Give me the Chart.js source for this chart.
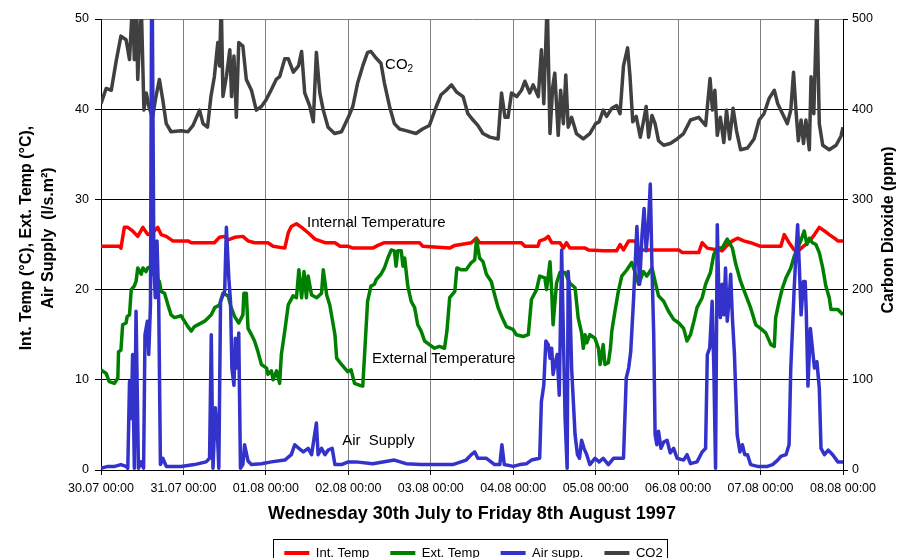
<!DOCTYPE html>
<html>
<head>
<meta charset="utf-8">
<script src="https://cdn.jsdelivr.net/npm/chart.js@4.4.0/dist/chart.umd.min.js"></script>
<style>
  html, body { margin: 0; padding: 0; background: #fff; }
  #wrap { width: 899px; height: 558px; }
</style>
</head>
<body>
<div id="wrap"><canvas id="chart" width="899" height="558"></canvas></div>
<script>
// hours since 30.07 00:00
const xTickLabels = ['30.07 00:00', '31.07 00:00', '01.08 00:00', '02.08 00:00', '03.08 00:00',
  '04.08 00:00', '05.08 00:00', '06.08 00:00', '07.08 00:00', '08.08 00:00'];
const seriesLabels = ['Int. Temp', 'Ext. Temp', 'Air supp.', 'CO2'];

const intTempHours = [0, 5.3, 5.8, 6.8, 7.8, 9.2, 10.7, 12.2, 13.6, 15, 16.5, 17.5, 19, 20.9, 25.3, 26.3, 33, 34.5, 36, 37,
  38.9, 41.3, 42.8, 44.7, 48.6, 50.1, 53.5, 54.5, 55.4, 56.9, 58.4, 60.3, 62.3, 65.2, 68.1, 69.6, 72, 73.3, 79.1, 80.6,
  82.5, 92.7, 93.7, 101.5, 103, 107.8, 109.3, 110.2, 122.4, 123.4, 127.2, 127.7, 129.2, 130.2, 131.2, 133.6, 134.6, 135.5, 136.5, 140.9,
  141.9, 146.2, 150.1, 151.1, 152.1, 153.6, 155.5, 156.5, 168.2, 169.2, 174, 175, 176.5, 180.8, 182.3, 183.8, 185.3, 187.1, 189.1, 192,
  197.9, 198.9, 200.3, 201.8, 203.3, 204.8, 206.7, 207.7, 209.1, 210.6, 212, 213.5, 214.5, 216];
const intTemp = [24.8, 24.8, 24.6, 26.9, 26.9, 26.5, 25.9, 26.9, 26.1, 26.3, 26.9, 26.1, 25.9, 25.4, 25.4, 25.2, 25.2, 25.8, 25.9, 25.5,
  25.8, 25.9, 25.4, 25.2, 25.2, 24.8, 24.6, 26.3, 27, 27.3, 26.9, 26.3, 25.6, 25.2, 25.2, 24.8, 24.8, 24.6, 24.6, 24.9,
  25.2, 25.2, 24.8, 24.6, 24.9, 25.2, 25.7, 25.2, 25.2, 24.8, 24.8, 25.4, 25.6, 25.9, 25.2, 25.2, 24.6, 25.2, 24.6, 24.6,
  24.4, 24.3, 24.3, 25, 24.4, 25.4, 25.4, 24.4, 24.4, 24.1, 24.1, 25.2, 24.6, 24.3, 24.9, 25.4, 25.7, 25.4, 25.2, 24.8,
  24.8, 26.1, 25.2, 24.4, 24.4, 24.9, 25.6, 26.1, 26.9, 26.5, 26.1, 25.7, 25.4, 25.4];

const extTempHours = [0, 1.5, 2.4, 3.9, 4.9, 5.1, 5.8, 6.3, 7.3, 7.6, 8.3, 8.8, 9.7, 10.2, 10.7, 11.7, 12.2, 13.1, 13.6, 14.6,
  15.6, 17, 17.5, 18.5, 19.5, 20.4, 21.4, 23.3, 24.3, 25.3, 26.3, 27.2, 30.2, 32.1, 33.1, 34.5, 35.5, 37, 37.9, 38.9,
  40.1, 41.3, 41.6, 42.3, 42.8, 43.8, 44.7, 45.7, 46.7, 48.2, 48.6, 49.6, 50.1, 51.1, 52, 52.5, 53.5, 54.5, 55.9, 56.9,
  57.6, 58.4, 59.1, 59.8, 60.3, 61.3, 62.8, 64.2, 64.7, 65.7, 66.6, 67.6, 68.1, 68.6, 70, 71.8, 72.8, 73.8, 75.2, 76.2,
  76.7, 77.6, 78.6, 79.6, 80.1, 81.5, 82.5, 83.5, 84.5, 85.4, 85.9, 86.4, 87.4, 87.9, 88.4, 89.3, 90.3, 91.3, 92.2, 93.2,
  94.2, 95.6, 97.1, 98.5, 100, 100.7, 101.5, 103, 103.6, 104.9, 106.3, 107.8, 108.8, 109.3, 110.2, 111.2, 112.2, 113.6, 114.6, 115.6,
  117, 118, 119.9, 120.9, 122.9, 124.4, 125.3, 126.8, 127.7, 129.2, 129.7, 130.7, 131.2, 131.6, 132.6, 133.6, 135.1, 136.5, 138, 138.9,
  139.9, 140.4, 140.9, 141.4, 142.3, 143.8, 144.8, 145.3, 146.2, 146.7, 147.7, 148.3, 148.7, 149.7, 150.6, 151.6, 153.1, 154.5, 155.5, 156.5,
  157.9, 158.9, 160.4, 161.3, 162.3, 163.8, 165.2, 166.7, 168.2, 169.6, 170.6, 171.6, 172.6, 173.5, 175, 176, 177.4, 178.4, 179.4, 180.8,
  182.3, 183.8, 184.8, 186.2, 187.7, 189.1, 190.6, 192, 193.5, 195, 196, 196.4, 197.4, 198.4, 199.4, 200.8, 201.8, 202.8, 203.7, 204.7,
  205.5, 206.2, 207.1, 208.1, 209.1, 210.1, 211, 212, 212.5, 214.5, 216];
const extTemp = [11.1, 10.7, 9.8, 9.6, 10.2, 13.1, 13.3, 16.1, 16.3, 17, 17.2, 20, 20.4, 20.9, 22.4, 21.7, 22.4, 22, 22.4, 22.6,
  21.5, 20.9, 19.8, 19.6, 18.3, 17.2, 16.9, 17.1, 16.5, 15.9, 15.4, 15.9, 16.5, 17.2, 18, 18.3, 19.6, 19.3, 18, 17,
  16.3, 17.2, 19.6, 19.6, 15.7, 15, 14.3, 13.1, 11.7, 11.3, 10.6, 11, 10, 11, 9.6, 12.8, 15.4, 18.3, 19.3, 19.1,
  22.2, 19.1, 22, 19.1, 21.5, 19.4, 19.1, 19.6, 22.2, 19.4, 18.3, 16.1, 15, 12.4, 11.7, 10.9, 11.1, 9.6, 9.4, 9.3,
  12.6, 18.7, 20.4, 20.6, 21.1, 21.7, 22.4, 23.5, 24.4, 24.3, 22.6, 24.3, 24.3, 22.6, 23.5, 20.4, 18.7, 18, 16.1, 15.4,
  14.3, 13.9, 13.5, 13.7, 13.5, 15.4, 19.1, 19.8, 22.4, 22.2, 22.2, 23, 23.3, 25.6, 23.5, 23.1, 21.7, 20.9, 19.4, 18,
  16.7, 15.9, 15.6, 15, 14.8, 15, 18.9, 20, 21.5, 21.3, 20, 23.1, 19.8, 16.1, 20.7, 21.9, 21.9, 20.7, 20.2, 16.9,
  15.2, 13.5, 15, 14.1, 15, 14.6, 13.5, 11.7, 13.9, 11.7, 11.9, 13.5, 15.4, 17.8, 19.8, 21.5, 22.2, 23, 21.9, 20.6,
  22, 21.5, 22.4, 20.9, 19.3, 18.7, 17.6, 16.7, 16.3, 15.7, 14.3, 15, 16.5, 18, 19.1, 20.6, 21.9, 23.9, 24.6, 24.6,
  25.6, 24.6, 22.8, 20.9, 19.4, 18, 16.1, 15.7, 15.2, 13.9, 13.7, 16.9, 18.7, 20.2, 21.3, 22.4, 23.7, 24.6, 25.4, 26.5,
  25, 25.7, 25.2, 25, 24.1, 22.4, 20.4, 19.1, 17.8, 17.8, 17.2];

const airHours = [0, 2, 4, 5.8, 7.3, 7.8, 8.3, 8.8, 9.2, 9.7, 10.2, 10.9, 11.7, 12.4, 12.8, 13.5, 13.9, 14.4, 14.8, 15.4,
  15.8, 16.3, 16.8, 17.3, 18, 19, 23.3, 27.2, 30.6, 31.6, 32.1, 32.6, 33.3, 33.9, 34.3, 34.8, 35.5, 36, 36.5, 37.2,
  37.7, 38.1, 38.7, 39.1, 39.7, 40.1, 40.6, 41.3, 41.8, 42.8, 43.8, 46.7, 49.6, 53.5, 55.4, 56.4, 57.6, 58.9, 60.3, 61.3,
  62.7, 63.2, 64.2, 65.2, 66.1, 67.3, 68.1, 70, 72, 74.2, 79.1, 85.4, 88.8, 93.2, 98.5, 102.4, 106.3, 107.8, 108.8, 109.7,
  111.2, 112.2, 114.6, 116.1, 116.7, 117.4, 120, 121.9, 123.9, 125.3, 127.7, 128.2, 128.9, 129.5, 130.2, 130.7, 131.2, 131.6, 132.1, 132.8,
  133.4, 134.1, 134.6, 135.1, 135.7, 136, 136.5, 137, 137.5, 138, 138.7, 139.3, 139.9, 140.6, 141.4, 142.3, 143.8, 145, 146.2, 147.7,
  149.2, 150.6, 152.1, 152.9, 153.6, 154.2, 155, 156, 156.8, 157.5, 158.1, 158.7, 159.4, 159.9, 160.4, 160.9, 161.3, 161.8, 162.3, 163,
  163.8, 164.8, 165.7, 166.7, 167.7, 169.6, 170.6, 171.6, 173.5, 175, 176, 176.5, 177.2, 177.9, 178.4, 178.9, 179.4, 179.9, 180.3, 180.8,
  181.3, 181.8, 182.3, 182.8, 183.3, 183.8, 184.4, 185.2, 186, 186.7, 187.4, 188.2, 189.1, 191.1, 194, 195.5, 197, 197.9, 199.4, 200.3,
  200.8, 201.3, 201.8, 202.3, 202.8, 203.3, 203.8, 204.5, 205, 205.3, 205.8, 206.5, 207.2, 207.7, 208.4, 209.1, 209.6, 210.6, 211.7, 213,
  214.5, 216];
const airSupply = [0.2, 0.4, 0.4, 0.6, 0.4, 0.2, 9.8, 5.7, 12.8, 0.2, 17.6, 0.2, 0.9, 0.2, 15, 16.5, 12.8, 18.3, 60, 22.4,
  19.1, 25.4, 18.7, 0.6, 1.3, 0.4, 0.4, 0.6, 0.9, 1.3, 15, 0.2, 6.9, 3.9, 0.2, 18.7, 19.4, 19.8, 26.9, 21.3,
  18.7, 11.3, 9.4, 14.6, 11.3, 15.2, 0.2, 0.6, 2.8, 1, 0.6, 0.7, 0.9, 1.1, 1.7, 2.8, 2.4, 2, 2.4, 1.7,
  5.2, 1.7, 2.4, 1.7, 2.2, 2.4, 0.6, 0.6, 0.9, 0.9, 0.7, 1.1, 0.7, 0.6, 0.6, 0.6, 1.1, 1.7, 2, 1.3,
  1.3, 1.3, 0.6, 0.6, 2.8, 0.6, 0.4, 0.6, 0.7, 1.1, 1.3, 7.6, 9.4, 14.3, 13.9, 12.4, 13.5, 10.6, 11.7, 12.8,
  8.3, 24.4, 15, 5.7, 0.2, 22, 18.7, 11.3, 7.6, 3.9, 1.7, 1.3, 3.3, 2.4, 1.7, 0.6, 1.3, 0.9, 1.3, 0.6,
  1.3, 1.3, 1.3, 10.2, 11.3, 13.1, 18.7, 27, 20.6, 26.1, 29, 24.3, 27.6, 31.7, 22.4, 15, 3.9, 2.8, 4.3, 2.4,
  3.1, 3.3, 1.9, 2.4, 1.3, 1.1, 1.7, 0.7, 0.9, 2, 2.4, 12.8, 13.5, 18.7, 11.3, 0.2, 27.2, 18.7, 16.9, 20.6,
  17.2, 22.4, 16.5, 18.7, 21.7, 16.9, 12.8, 3.9, 2, 2.8, 1.7, 1.7, 0.6, 0.4, 0.4, 0.6, 1.1, 1.5, 1.7, 2.8,
  11.3, 15.7, 20.2, 24, 27.2, 22.4, 17.2, 20.9, 20.9, 17.6, 9.3, 15.7, 13.1, 11.3, 12, 9.1, 2.4, 1.7, 2.2, 1.7,
  0.9, 0.9];

const co2Hours = [0, 1.5, 3, 4.4, 5.8, 7.3, 8.3, 9.2, 9.7, 10.2, 10.7, 11.7, 12.5, 13.2, 14, 15, 16, 17, 18, 19,
  20.4, 23.3, 25.3, 26.8, 28.7, 29.7, 31, 32, 33, 34, 34.5, 35, 35.5, 36.5, 37.5, 38, 38.7, 39.4, 40.1, 41.3,
  42.3, 43.8, 45.2, 46.7, 48, 49.5, 51, 52, 53.5, 54.5, 56, 57.5, 58.4, 59.3, 60.8, 61.8, 62.7, 63.7, 64.7, 66.1,
  68, 70, 72, 73.3, 74.7, 76.2, 77.6, 78.6, 80, 81.5, 82.5, 84, 85.4, 86.9, 89, 91.7, 93.6, 95.6, 97.6, 99,
  100.5, 102, 103.5, 105.4, 106.8, 108.3, 109.7, 111.2, 113.2, 115.6, 116.6, 117.6, 118.5, 119.5, 121, 122.4, 123.4, 124.8, 125.8, 127.3,
  128.2, 128.9, 129.9, 130.7, 131.5, 132.1, 133.1, 133.8, 134.6, 135.3, 136, 137, 138.4, 140.4, 142.3, 144, 145, 146.2, 147.2, 148.7,
  150.1, 151.1, 152.1, 153.3, 154, 154.8, 155.8, 157, 158, 158.7, 159.4, 160.4, 161.3, 162.3, 163.8, 165.7, 167.7, 169.6, 171.6, 174,
  176, 176.7, 177.3, 178, 178.7, 179.4, 180.3, 181.3, 182.1, 183, 184, 185, 186.2, 188.2, 190.1, 191.6, 193, 194.5, 196, 197,
  198.4, 199.8, 200.8, 201.6, 202.3, 203, 203.8, 204.5, 205.2, 206.2, 206.7, 207.5, 208.4, 209.1, 210.1, 212, 214, 215.4, 216];
const co2Ppm = [406, 423, 421, 453, 481, 477, 455, 520, 455, 520, 433, 520, 399, 418, 402, 391, 414, 433, 410, 384,
  375, 376, 375, 382, 399, 384, 380, 414, 436, 474, 448, 520, 414, 436, 466, 414, 459, 391, 474, 470,
  433, 421, 399, 403, 410, 421, 433, 436, 456, 456, 441, 448, 464, 418, 403, 386, 463, 418, 399, 380,
  373, 375, 391, 403, 429, 448, 463, 464, 457, 451, 429, 403, 384, 378, 376, 373, 378, 382, 403, 416,
  421, 427, 419, 414, 395, 388, 382, 373, 369, 367, 418, 391, 391, 418, 414, 421, 431, 418, 427, 414,
  466, 406, 520, 373, 425, 440, 371, 421, 384, 438, 380, 391, 373, 367, 373, 384, 386, 399, 392, 401,
  404, 395, 448, 468, 436, 386, 392, 369, 388, 403, 369, 393, 384, 365, 360, 362, 367, 373, 388, 391,
  382, 410, 434, 399, 421, 371, 391, 363, 399, 367, 401, 376, 355, 357, 367, 388, 395, 412, 421, 406,
  395, 384, 399, 441, 399, 365, 388, 362, 388, 355, 436, 395, 520, 384, 360, 355, 360, 370, 380];

const toPoints = (xs, ys) => xs.map((x, i) => ({ x: x, y: ys[i] }));

Chart.defaults.font.family = 'Arial, "Liberation Sans", sans-serif';
Chart.defaults.color = '#000';

const extras = {
  id: 'extras',
  afterDraw(chart) {
    const ctx = chart.ctx;
    const x = chart.scales.x, yT = chart.scales.y, yC = chart.scales.y2;
    ctx.save();
    ctx.fillStyle = '#000';
    ctx.textBaseline = 'alphabetic';
    ctx.textAlign = 'left';
    ctx.font = '15px Arial, "Liberation Sans", sans-serif';
    ctx.fillText('Internal Temperature', x.getPixelForValue(60), yT.getPixelForValue(26.9));
    ctx.fillText('External Temperature', x.getPixelForValue(78.9), yT.getPixelForValue(11.9));
    ctx.fillText('Air  Supply', x.getPixelForValue(70.2), yT.getPixelForValue(2.8));
    const cx = x.getPixelForValue(82.7), cy = yC.getPixelForValue(445);
    ctx.fillText('CO', cx, cy);
    const w = ctx.measureText('CO').width;
    ctx.font = '10px Arial, "Liberation Sans", sans-serif';
    ctx.fillText('2', cx + w, cy + 3);

    // axis titles
    ctx.font = 'bold 16px Arial, "Liberation Sans", sans-serif';
    ctx.textAlign = 'center';
    ctx.textBaseline = 'middle';
    ctx.translate(27, 238);
    ctx.rotate(-Math.PI / 2);
    ctx.fillText('Int. Temp (\u00B0C), Ext. Temp (\u00B0C),', 0, 0);
    ctx.fillText('Air Supply  (l/s.m\u00B2)', 0, 22);
    ctx.setTransform(1, 0, 0, 1, 0, 0);
    ctx.translate(889, 230);
    ctx.rotate(-Math.PI / 2);
    ctx.fillText('Carbon Dioxide (ppm)', 0, 0);
    ctx.setTransform(1, 0, 0, 1, 0, 0);

    // legend frame
    const hb = chart.legend.legendHitBoxes;
    if (hb && hb.length) {
      const last = hb[hb.length - 1];
      const l = hb[0].left - 11, r = last.left + last.width + 5;
      ctx.strokeStyle = '#000';
      ctx.lineWidth = 1;
      ctx.strokeRect(Math.round(l) + 0.5, 539.5, Math.round(r - l), 30);
    }
    ctx.restore();
  }
};

new Chart(document.getElementById('chart'), {
  type: 'line',
  data: {
    datasets: [
      { label: seriesLabels[0], data: toPoints(intTempHours, intTemp), borderColor: '#ff0000', backgroundColor: '#ff0000', yAxisID: 'y', order: 3 },
      { label: seriesLabels[1], data: toPoints(extTempHours, extTemp), borderColor: '#008000', backgroundColor: '#008000', yAxisID: 'y', order: 2 },
      { label: seriesLabels[2], data: toPoints(airHours, airSupply), borderColor: '#3333cc', backgroundColor: '#3333cc', yAxisID: 'y', order: 1 },
      { label: seriesLabels[3], data: toPoints(co2Hours, co2Ppm), borderColor: '#404040', backgroundColor: '#404040', yAxisID: 'y2', order: 4 }
    ]
  },
  options: {
    responsive: false,
    animation: false,
    devicePixelRatio: 1,
    elements: {
      line: { borderWidth: 3.5, tension: 0, fill: false, borderJoinStyle: 'round' },
      point: { radius: 0, hoverRadius: 0 }
    },
    layout: { padding: { left: 48, right: 0, top: 19, bottom: -11.5 } },
    scales: {
      x: {
        type: 'linear', position: 'bottom', min: 0, max: 216,
        afterBuildTicks: s => { s.ticks = xTickLabels.map((_, i) => ({ value: i * 24 })); },
        ticks: { callback: v => xTickLabels[Math.round(v / 24)], font: { size: 12.5 }, padding: 6, maxRotation: 0, autoSkip: false },
        grid: { color: '#808080', lineWidth: 1, tickLength: 5, tickColor: '#000' },
        border: { color: '#000', width: 1 },
        title: { display: true, text: 'Wednesday 30th July to Friday 8th August 1997', font: { size: 18, weight: 'bold' }, padding: { top: 0, bottom: 0.7 } },
        afterFit: s => { s.height = 55.5; }
      },
      y: {
        position: 'left', min: 0, max: 50,
        ticks: { stepSize: 10, font: { size: 12.5 }, padding: 6 },
        grid: { color: c => (c.tick && c.tick.value === 50 ? '#808080' : '#000'), lineWidth: 1, tickLength: 6, tickColor: '#000' },
        border: { color: '#000', width: 1 },
        afterFit: s => { s.width = 53; }
      },
      y2: {
        position: 'right', min: 0, max: 500,
        ticks: { stepSize: 100, font: { size: 12.5 }, padding: 4 },
        grid: { drawOnChartArea: false, tickLength: 5, tickColor: '#000' },
        border: { color: '#000', width: 1 },
        afterFit: s => { s.width = 56; }
      }
    },
    plugins: {
      tooltip: { enabled: false },
      legend: {
        position: 'bottom',
        labels: {
          boxWidth: 25, boxHeight: 4, padding: 21, font: { size: 13 },
          sort: (a, b) => a.datasetIndex - b.datasetIndex,
          generateLabels: chart => Chart.defaults.plugins.legend.labels.generateLabels(chart)
            .map(it => Object.assign(it, { fillStyle: it.strokeStyle, lineWidth: 0 }))
        }
      }
    }
  },
  plugins: [extras]
});
</script>
</body>
</html>
